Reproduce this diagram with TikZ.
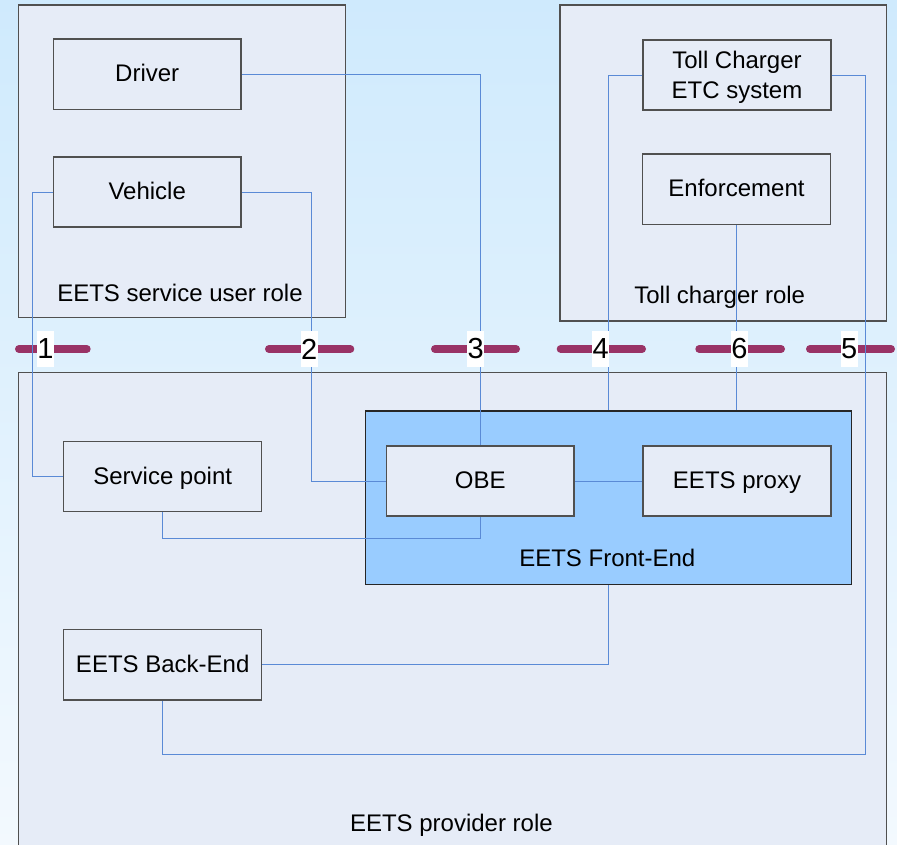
\documentclass[tikz,border=0pt]{standalone}
\usepackage{fontspec}
\setmainfont{Liberation Sans}
\usetikzlibrary{calc}
\definecolor{bgtop}{HTML}{CFEAFD}
\definecolor{bgbot}{HTML}{F3F9FE}
\definecolor{boxfill}{HTML}{E6ECF7}
\definecolor{boxline}{HTML}{505050}
\definecolor{fefill}{HTML}{99CCFF}
\definecolor{conncol}{HTML}{5A8AD6}
\definecolor{dashcol}{HTML}{993366}
\tikzset{
  rolebox/.style={draw=boxline, line width=1.5pt, fill=boxfill, rectangle, inner sep=0pt},
  febox/.style={draw=black!85, line width=1.5pt, fill=fefill, rectangle, inner sep=0pt},
  elembase/.style={draw=boxline, line width=1.5pt, fill=boxfill, rectangle, inner sep=0pt,
    minimum width=187.7pt, minimum height=70.4pt, align=center,
    font=\fontsize{24}{30}\selectfont},
  elembox/.style={elembase, text height=19pt, text depth=3.8pt},
  widebox/.style={elembox, minimum width=198pt},
  rolelabel/.style={anchor=base, inner sep=0pt, font=\fontsize{24}{29}\selectfont},
  conn/.style={draw=conncol, line width=0.9pt},
  cut/.style={draw=dashcol, line width=8pt, line cap=round},
  numlabel/.style={fill=white, inner sep=0pt, minimum width=16.5pt, minimum height=35.7pt,
    font=\fontsize{29}{32}\selectfont}
}
\begin{document}
\begin{tikzpicture}[x=1pt,y=-1pt]
\useasboundingbox (0,0) rectangle (897,845);
\clip (0,0) rectangle (897,845);
\shade[top color=bgtop, bottom color=bgbot] (0,0) rectangle (897,845);

% role areas
\node[rolebox, minimum width=327pt, minimum height=312.3pt] (userrole) at (181.8,161.15) {};
\node[rolebox, minimum width=326.3pt, minimum height=316pt] (tollrole) at (723.15,163) {};
\node[rolebox, minimum width=868pt, minimum height=487.3pt] (provrole) at (452.3,616.35) {};
\node[febox, minimum width=486pt, minimum height=173.3pt] (fe) at (608.7,497.65) {};

\node[rolelabel] (userlbl) at (180,301) {EETS service user role};
\node[rolelabel] (tolllbl) at (719.7,303.3) {Toll charger role};
\node[rolelabel] (felbl) at (607.3,566.7) {EETS Front-End};
\node[rolelabel] (provlbl) at (451.4,831.7) {EETS provider role};

% cut line segments
\draw[cut] (19,349) -- (86.7,349);
\draw[cut] (269,349) -- (350.3,349);
\draw[cut] (435,349) -- (516,349);
\draw[cut] (560.7,349) -- (642,349);
\draw[cut] (699.3,349) -- (781,349);
\draw[cut] (810,349) -- (891,349);

% element boxes
\node[elembox] (driver) at (147.2,74.2) {Driver};
\node[elembox] (vehicle) at (147.2,192) {Vehicle};
\node[elembase] (toll) at (737,75) {\rule{0pt}{22.3pt}Toll Charger\\ETC system};
\node[elembox] (enf) at (736.5,189.2) {Enforcement};
\node[widebox] (sp) at (162.7,476.5) {Service point};
\node[widebox] (be) at (162.7,664.7) {EETS Back-End};
\node[elembox] (obe) at (480.2,481) {OBE};
\node[elembox] (proxy) at (737,481) {EETS proxy};

% connectors
\coordinate (fe4top) at ($(fe.north west)+(243,0)$);
\coordinate (fe4bot) at ($(fe.south west)+(243,0)$);
\coordinate (c5corner) at (865.3,754.3);
\draw[conn] (driver.east) -| (obe.north);
\draw[conn] (vehicle.west) -- ++(-20.5,0) |- (sp.west);
\draw[conn] (vehicle.east) -- ++(69.3,0) |- (obe.west);
\draw[conn] (sp.south) -- ++(0,25.6) -| (obe.south);
\draw[conn] (toll.west) -| (fe4top);
\draw[conn] (toll.east) -| (c5corner) -| (be.south);
\draw[conn] (enf.south) -- (enf.south |- fe.north);
\draw[conn] (obe.east) -- (proxy.west);
\draw[conn] (be.east) -| (fe4bot);

% interface numbers
\node[numlabel] (n1) at (45.5,349) {1};
\node[numlabel] (n2) at (309.3,349) {2};
\node[numlabel] (n3) at (475.7,349) {3};
\node[numlabel] (n4) at (600.7,349) {4};
\node[numlabel] (n6) at (739.5,349) {6};
\node[numlabel] (n5) at (849.3,349) {5};
\end{tikzpicture}
\end{document}
